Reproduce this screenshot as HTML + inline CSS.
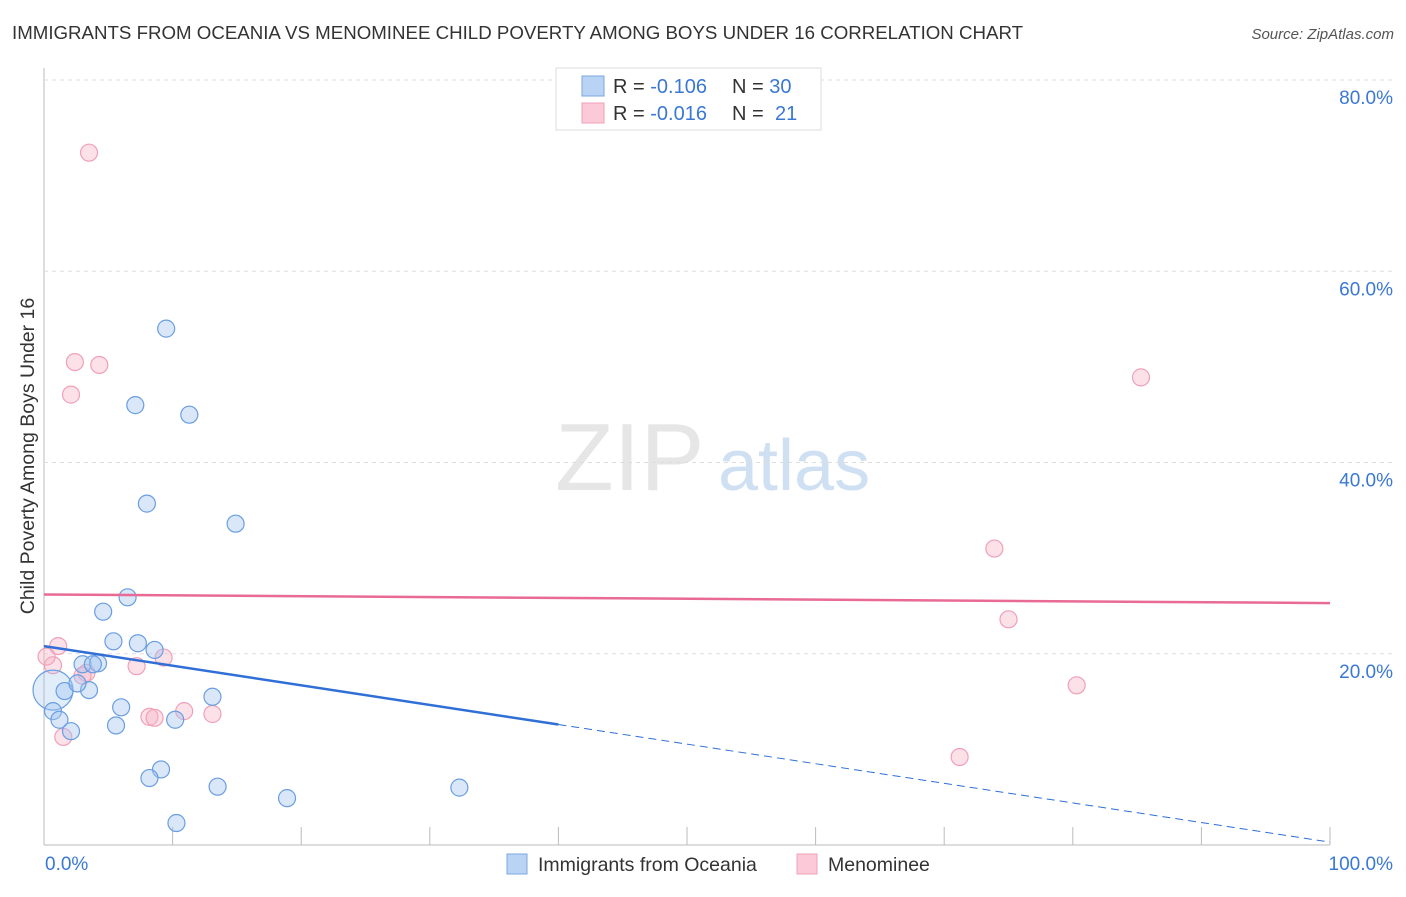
<!DOCTYPE html>
<html><head><meta charset="utf-8"><style>
body{margin:0;background:#fff;font-family:"Liberation Sans",sans-serif}
svg text{font-family:"Liberation Sans",sans-serif}
</style></head><body>
<svg id="c" width="1406" height="892">
<text x="12" y="39" font-size="18.7" fill="#333">IMMIGRANTS FROM OCEANIA VS MENOMINEE CHILD POVERTY AMONG BOYS UNDER 16 CORRELATION CHART</text>
<text x="1394" y="39" font-size="15" fill="#555" text-anchor="end" font-style="italic">Source: ZipAtlas.com</text>
<text x="34" y="456" font-size="19.5" fill="#333" text-anchor="middle" transform="rotate(-90 34 456)">Child Poverty Among Boys Under 16</text>
<text x="555" y="490" font-size="96" fill="#e6e6e6" font-family="Liberation Serif">ZIP</text>
<text x="718" y="490" font-size="72" fill="#cfe0f3">atlas</text>
<g id="grid"></g><g id="marks"></g>
<g>
<rect x="556" y="68" width="265" height="62" fill="#fff" stroke="#ddd"/>
<rect x="582" y="76" width="22" height="20" fill="#b9d3f5" stroke="#7aa7e0"/>
<rect x="582" y="103" width="22" height="20" fill="#fcc9d8" stroke="#f0a0b8"/>
<text x="613" y="93" font-size="20" fill="#333">R = <tspan fill="#3a78d4">-0.106</tspan><tspan x="732">N = </tspan><tspan fill="#3a78d4">30</tspan></text>
<text x="613" y="120" font-size="20" fill="#333">R = <tspan fill="#3a78d4">-0.016</tspan><tspan x="732">N = </tspan><tspan fill="#3a78d4" x="775">21</tspan></text>
</g>
<g>
<rect x="507" y="854" width="20" height="20" fill="#b9d3f5" stroke="#7aa7e0"/>
<text x="538" y="871" font-size="19.5" fill="#333">Immigrants from Oceania</text>
<rect x="797" y="854" width="20" height="20" fill="#fcc9d8" stroke="#f0a0b8"/>
<text x="828" y="871" font-size="19.5" fill="#333">Menominee</text>
</g>
</svg>
<script>
const blueX=[9.5,7.1,11.3,8.0,14.9,32.3,4.6,6.5,5.4,7.3,8.6,3.0,4.2,3.8,0.7,1.6,3.5,2.6,6.0,5.6,0.7,1.2,2.1,13.1,10.2,9.1,8.2,13.5,18.9,10.3];
const blueY=[54.0,46.0,45.0,35.7,33.6,6.0,24.4,25.9,21.3,21.1,20.4,18.9,19.0,18.9,16.2,16.1,16.2,16.9,14.4,12.5,14.0,13.1,11.9,15.5,13.1,7.9,7.0,6.1,4.9,2.3];
const pinkX=[3.5,2.4,4.3,2.1,85.3,73.9,75.0,80.3,71.2,1.1,0.7,0.2,7.2,9.3,3.3,8.2,8.6,10.9,13.1,1.5,3.0];
const pinkY=[72.4,50.5,50.2,47.1,48.9,31.0,23.6,16.7,9.2,20.8,18.8,19.7,18.7,19.6,18.0,13.4,13.3,14.0,13.7,11.3,17.7];
const yTicks=[20,40,60,80];
const yTickLabels=["20.0%","40.0%","60.0%","80.0%"];
const xTicks=[0,10,20,30,40,50,60,70,80,90,100];
const blueTrend=[20.8,0.3];
const pinkTrend=[26.2,25.3];
const NS="http://www.w3.org/2000/svg";
const sx=v=>44+v*12.86, sy=v=>845-v*9.5625;
function mk(t,a,p){const e=document.createElementNS(NS,t);for(const k in a)e.setAttribute(k,a[k]);p.appendChild(e);return e;}
const grid=document.getElementById('grid'),marks=document.getElementById('marks');
let ax=mk('line',{x1:44,y1:68,x2:44,y2:845,stroke:'#bbb'},grid);


let bx=mk('line',{x1:44,y1:845,x2:1330,y2:845,stroke:'#bbb'},grid);


yTicks.forEach((v,i)=>{
 const g=mk('line',{x1:44,x2:1394,y1:sy(v),y2:sy(v),stroke:'#ddd','stroke-dasharray':'4,4'},grid);
 
 
 const t=mk('text',{x:1393,y:sy(v)+24,'font-size':19,fill:'#3a78d4','text-anchor':'end'},grid);t.textContent=yTickLabels[i];
 
 
});
xTicks.forEach(v=>{
 const l=mk('line',{x1:sx(v),x2:sx(v),y1:845,y2:v==0?845:827,stroke:'#bbb'},grid);
 
 
});
let t0=mk('text',{x:45,y:870,'font-size':19,fill:'#3a78d4'},grid);t0.textContent='0.0%';


let t1=mk('text',{x:1393,y:870,'font-size':19,fill:'#3a78d4','text-anchor':'end'},grid);t1.textContent='100.0%';


pinkX.forEach((x,i)=>{
 const c=mk('circle',{cx:sx(x),cy:sy(pinkY[i]),r:8.5,fill:'rgba(248,180,200,0.4)',stroke:'#f0a0b8','stroke-width':1.2},marks);
 
 
});
blueX.forEach((x,i)=>{
 const c=mk('circle',{cx:sx(x),cy:sy(blueY[i]),r:i==14?20:8.5,fill:i==14?'rgba(160,195,240,0.3)':'rgba(160,195,240,0.4)',stroke:'#6a9ee0','stroke-width':1.2},marks);
 
 
});
const by=x=>blueTrend[0]+(blueTrend[1]-blueTrend[0])*x/100;
let l1=mk('line',{x1:sx(0),y1:sy(by(0)),x2:sx(40),y2:sy(by(40)),stroke:'#2f6fd6','stroke-width':2.5},marks);


let l2=mk('line',{x1:sx(40),y1:sy(by(40)),x2:sx(100),y2:sy(by(100)),stroke:'#2f6fd6','stroke-width':1,'stroke-dasharray':'8,5'},marks);


let l3=mk('line',{x1:sx(0),y1:sy(pinkTrend[0]),x2:sx(100),y2:sy(pinkTrend[1]),stroke:'#e86a95','stroke-width':2.5},marks);


</script>
</body></html>
